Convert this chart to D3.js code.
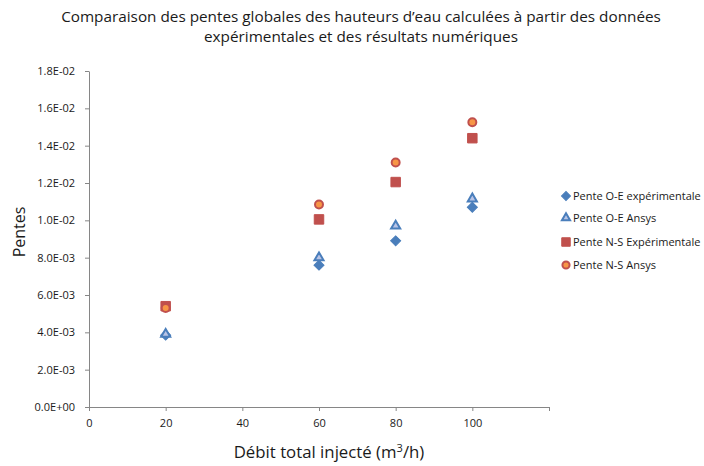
<!DOCTYPE html>
<html>
<head>
<meta charset="utf-8">
<script src="https://cdn.jsdelivr.net/npm/d3@7"></script>
<style>
  html, body { margin: 0; padding: 0; background: #fff; }
  svg { display: block; font-family: "Open Sans", "DejaVu Sans", sans-serif; }
</style>
</head>
<body>
<svg id="chart" width="704" height="466"></svg>
<script>
// Flow rates (m3/h)
const debits = [20, 60, 80, 100];
// Global slopes per series
const penteOEExp   = [0.00385, 0.0076, 0.0089, 0.0107];
const penteOEAnsys = [0.0039, 0.0080, 0.0097, 0.01115];
const penteNSExp   = [0.0054, 0.01005, 0.01205, 0.0144];
const penteNSAnsys = [0.0053, 0.01085, 0.0131, 0.01525];
const yTicks = [0, 0.002, 0.004, 0.006, 0.008, 0.010, 0.012, 0.014, 0.016, 0.018];
const xTicks = [0, 20, 40, 60, 80, 100, 120];
const xTickLabels = ["0", "20", "40", "60", "80", "100", ""];
const seriesNames = ["Pente O-E expérimentale", "Pente O-E Ansys", "Pente N-S Expérimentale", "Pente N-S Ansys"];

const svg = d3.select("#chart");
const plotLeft = 89, plotRight = 549, plotTop = 71, plotBottom = 407;

const x = d3.scaleLinear().domain([0, 120]).range([plotLeft, plotRight]);
const y = d3.scaleLinear().domain([0, 0.018]).range([plotBottom, plotTop]);

const axisColor = "#868686";
const textColor = "#1a1a1a";

// Title
svg.append("text").attr("x", 361).attr("y", 22).attr("text-anchor", "middle")
  .attr("font-size", 15.3).attr("fill", textColor)
  .text("Comparaison des pentes globales des hauteurs d\u2019eau calculées à partir des données");
svg.append("text").attr("x", 361).attr("y", 42).attr("text-anchor", "middle")
  .attr("font-size", 15.3).attr("fill", textColor)
  .text("expérimentales et des résultats numériques");

// Y axis
const yAxis = d3.axisLeft(y).tickValues(yTicks).tickSize(4).tickSizeOuter(0)
  .tickFormat(d => {
    if (d === 0) return "0.0E+00";
    const e = Math.floor(Math.log10(d) + 1e-9);
    const m = d / Math.pow(10, e);
    return m.toFixed(1) + "E-" + String(-e).padStart(2, "0");
  });
const gy = svg.append("g").attr("transform", `translate(${plotLeft},0)`).call(yAxis);
gy.select(".domain").attr("stroke", axisColor);
gy.selectAll(".tick line").attr("stroke", axisColor);
gy.selectAll(".tick text").attr("font-size", 11).attr("fill", textColor)
  .attr("font-family", "'Open Sans', sans-serif").attr("x", -14);

// X axis
const xAxis = d3.axisBottom(x).tickValues(xTicks).tickSize(4).tickSizeOuter(0)
  .tickFormat((d, i) => xTickLabels[i]);
const gx = svg.append("g").attr("transform", `translate(0,${plotBottom})`).call(xAxis);
gx.select(".domain").attr("stroke", axisColor);
gx.selectAll(".tick line").attr("stroke", axisColor);
gx.selectAll(".tick text").attr("font-size", 11).attr("fill", textColor)
  .attr("font-family", "'Open Sans', sans-serif").attr("y", 12);

// Axis titles
svg.append("text").attr("transform", "translate(25,232) rotate(-90)")
  .attr("text-anchor", "middle").attr("font-size", 16).attr("fill", textColor).text("Pentes");
const xt = svg.append("text").attr("x", 329).attr("y", 458).attr("text-anchor", "middle")
  .attr("font-size", 16.8).attr("fill", textColor);
xt.append("tspan").text("Débit total injecté (m");
xt.append("tspan").attr("font-size", 11).attr("dy", -6).text("3");
xt.append("tspan").attr("dy", 6).text("/h)");

// Marker definitions
const styles = [
  { sym: d3.symbolSquare, size: 50, rot: 45, fill: "#4a7ebb", stroke: "#4a7ebb", sw: 1 },
  { sym: d3.symbolTriangle, size: 36, rot: 0, fill: "#b9c4e6", stroke: "#4a7ebb", sw: 2 },
  { sym: d3.symbolSquare, size: 90, rot: 0, fill: "#c0504d", stroke: "#c0504d", sw: 1 },
  { sym: d3.symbolCircle, size: 50, rot: 0, fill: "#f79646", stroke: "#c0504d", sw: 2 }
];
const allSeries = [penteOEExp, penteOEAnsys, penteNSExp, penteNSAnsys];

allSeries.forEach((vals, si) => {
  const st = styles[si];
  svg.append("g").selectAll("path").data(vals).join("path")
    .attr("transform", (d, i) => `translate(${x(debits[i])},${y(d)}) rotate(${st.rot})`)
    .attr("d", d3.symbol().type(st.sym).size(st.size))
    .attr("fill", st.fill).attr("stroke", st.stroke).attr("stroke-width", st.sw);
});

// Legend
const legendY = [196, 218, 242, 265];
const lg = svg.append("g");
seriesNames.forEach((name, i) => {
  const st = styles[i];
  lg.append("path").attr("transform", `translate(566,${legendY[i]}) rotate(${st.rot})`)
    .attr("d", d3.symbol().type(st.sym).size(st.size * 0.8))
    .attr("fill", st.fill).attr("stroke", st.stroke).attr("stroke-width", st.sw);
  lg.append("text").attr("x", 573).attr("y", legendY[i] + 4)
    .attr("font-size", 11).attr("fill", textColor).text(name);
});
</script>
</body>
</html>
